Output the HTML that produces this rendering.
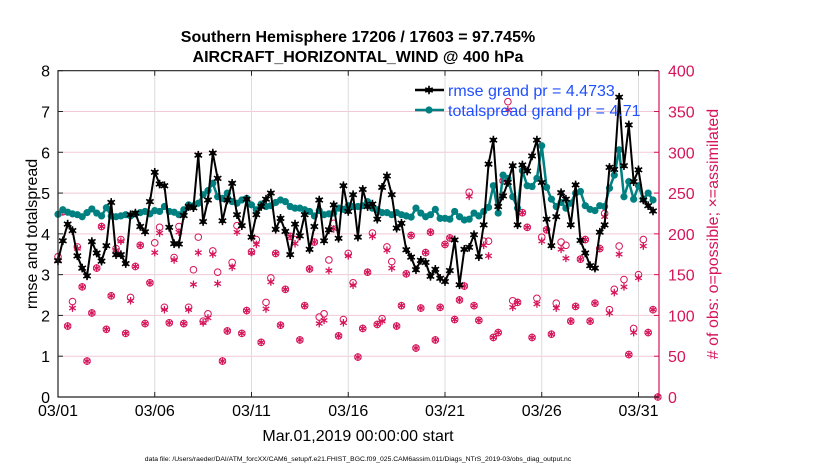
<!DOCTYPE html>
<html><head><meta charset="utf-8"><style>
body{margin:0;background:#fff;}
svg{display:block;font-family:"Liberation Sans",Arial,sans-serif;}
</style></head><body>
<svg id="chart" width="830" height="470" viewBox="0 0 830 470" xmlns="http://www.w3.org/2000/svg">
<rect width="830" height="470" fill="#fff"/>
<text x="358" y="42" text-anchor="middle" font-size="16" font-weight="bold">Southern Hemisphere 17206 / 17603 = 97.745%</text>
<text x="358" y="62" text-anchor="middle" font-size="16" font-weight="bold">AIRCRAFT_HORIZONTAL_WIND @ 400 hPa</text>
<g id="grid"></g>
<g id="obs"></g>
<g id="series"></g>
<g id="axes"></g>
<text transform="translate(37,234) rotate(-90)" text-anchor="middle" font-size="16">rmse and totalspread</text>
<text transform="translate(718,234) rotate(-90)" text-anchor="middle" font-size="16" fill="#d6145a"># of obs: o=possible; ×=assimilated</text>
<text x="358" y="441" text-anchor="middle" font-size="16">Mar.01,2019 00:00:00 start</text>
<text x="358" y="461" text-anchor="middle" font-size="6.8">data file: /Users/raeder/DAI/ATM_forcXX/CAM6_setup/f.e21.FHIST_BGC.f09_025.CAM6assim.011/Diags_NTrS_2019-03/obs_diag_output.nc</text>
<g id="legend"></g>
</svg>
<script>
const rmse=[3.34,3.83,4.24,4.08,3.46,3.16,2.97,3.81,3.53,3.33,3.71,4.77,3.49,3.49,3.27,4.47,4.51,4.18,4.05,4.79,5.51,5.22,5.18,4.16,3.76,3.75,4.45,4.67,4.64,5.93,4.30,4.83,5.98,5.36,4.32,4.83,5.24,4.47,4.20,4.85,3.92,
4.47,4.67,4.85,5.0,4.11,4.38,4.06,3.49,4.24,3.95,4.47,3.62,4.18,4.83,3.83,4.10,4.71,3.89,5.18,4.55,4.96,3.92,5.09,4.67,4.73,4.36,5.14,5.42,4.96,4.14,4.26,3.61,3.43,3.12,3.35,3.30,2.96,3.13,2.91,2.83,3.10,3.85,2.75,
3.62,3.67,3.98,3.44,4.22,5.71,6.30,4.67,4.93,5.26,5.67,4.22,5.69,5.54,5.91,6.30,5.26,4.36,3.71,4.42,5.01,4.85,4.22,5.20,3.84,3.53,3.22,3.16,4.04,4.22,5.63,5.58,7.35,5.67,6.67,5.28,5.57,4.83,4.69,4.56];
const spread=[4.48,4.59,4.53,4.49,4.47,4.42,4.52,4.61,4.51,4.44,4.64,4.44,4.42,4.44,4.47,4.44,4.49,4.52,4.55,4.49,4.57,4.55,4.67,4.55,4.53,4.47,4.59,4.71,4.69,4.75,4.96,5.06,5.24,4.91,4.87,5.0,4.79,4.75,4.83,4.87,4.71,
4.59,4.73,4.67,4.69,4.77,4.83,4.79,4.67,4.63,4.63,4.59,4.55,4.44,4.57,4.47,4.49,4.51,4.63,4.60,4.69,4.67,4.67,4.69,4.79,4.63,4.59,4.52,4.52,4.47,4.52,4.47,4.44,4.41,4.63,4.51,4.42,4.47,4.60,4.38,4.38,4.36,
4.55,4.42,4.34,4.36,4.51,4.44,4.55,4.65,5.18,4.51,5.44,5.36,4.91,4.63,5.55,5.18,5.16,5.36,6.16,5.14,4.85,4.67,4.77,4.63,4.75,5.0,5.04,4.69,4.60,4.57,4.69,4.67,5.12,5.44,6.06,4.91,5.28,4.85,5.18,4.85,5.0,4.83];
const possible=[172,227,87,117,184,135,44,103,158,209,83,124,182,193,78,122,160,186,90,140,189,208,110,91,171,209,90,110,156,196,93,102,179,153,44,81,165,210,78,106,178,
193,67,116,146,176,88,132,197,193,70,112,157,190,98,102,168,213,75,95,176,140,49,84,153,201,89,96,184,166,87,112,151,198,60,109,177,202,70,110,187,195,95,119,
136,251,112,94,191,191,73,79,265,362,118,116,226,208,73,121,196,205,77,115,190,186,93,111,169,193,93,115,182,225,107,132,185,144,52,84,150,193,79,107,0];
const assimilated=[168,227,87,109,182,135,44,103,158,209,83,124,180,191,78,118,160,186,90,140,177,201,107,91,168,202,90,107,138,177,91,97,175,139,44,81,159,202,78,106,177,
187,67,108,141,176,88,132,197,188,70,112,157,190,90,94,155,206,75,91,173,137,49,84,153,197,89,93,180,158,87,112,151,198,60,109,177,202,70,110,187,195,95,119,
136,246,112,94,186,173,73,79,265,352,110,116,226,208,73,114,191,205,77,109,181,170,93,111,169,193,93,115,182,221,103,128,175,135,52,79,146,185,79,107,0];
const xTickLabels=["03/01","03/06","03/11","03/16","03/21","03/26","03/31"];
const xTickDays=[0,5,10,15,20,25,30];
const yTicks=[0,1,2,3,4,5,6,7,8];
const y2Ticks=[0,50,100,150,200,250,300,350,400];
const legendLabels=["rmse grand pr = 4.4733","totalspread grand pr = 4.71"];

const L=58,R=659,T=70.7,B=397,DAYS=31.06;
const X=d=>L+(R-L)*d/DAYS;
const xi=i=>X(i*0.25);
const Y=v=>B-(B-T)*v/8;
const Y2=v=>B-(B-T)*v/400;
const NS="http://www.w3.org/2000/svg";
const CR="#d6145a",TEAL="#008080";
function mk(tag,attrs,parent){const e=document.createElementNS(NS,tag);for(const k in attrs)e.setAttribute(k,attrs[k]);parent.appendChild(e);return e;}
const grid=document.getElementById('grid'),axes=document.getElementById('axes'),obs=document.getElementById('obs'),ser=document.getElementById('series'),leg=document.getElementById('legend');

yTicks.forEach(v=>{
  if(v>0&&v<8){const g=mk('line',{x1:L,x2:R,y1:Y(v),y2:Y(v),stroke:'#f2c9d8','stroke-width':1},grid);
  
  }
  const t=mk('text',{x:L-8,y:Y(v)+6,'text-anchor':'end','font-size':16},axes);t.textContent=v;
  
  
  mk('line',{x1:L,x2:L+5,y1:Y(v),y2:Y(v),stroke:'#222'},axes);
});
xTickDays.forEach((d,k)=>{
  const g=mk('line',{x1:X(d),x2:X(d),y1:T,y2:B,stroke:'#dcdcdc','stroke-width':1},grid);
  
  
  mk('line',{x1:X(d),x2:X(d),y1:B,y2:B-5,stroke:'#222'},axes);
  mk('line',{x1:X(d),x2:X(d),y1:T,y2:T+5,stroke:'#222'},axes);
  const t=mk('text',{x:X(d),y:B+19,'text-anchor':'middle','font-size':16},axes);t.textContent=xTickLabels[k];
  
  
});
y2Ticks.forEach(v=>{
  mk('line',{x1:R,x2:R-5,y1:Y2(v),y2:Y2(v),stroke:CR},axes);
  const t=mk('text',{x:R+9,y:Y2(v)+6,'font-size':16,fill:CR},axes);t.textContent=v;
  
  
});
const fr=mk('path',{d:`M${R},${T}H${L}V${B}H${R}`,fill:'none',stroke:'#222','stroke-width':1.2},axes);


const ra=mk('line',{x1:R,x2:R,y1:T,y2:B,stroke:CR,'stroke-width':1.2},axes);



function star(cx,cy,r,col,w,parent){
  let d='';for(let a=0;a<3;a++){const an=Math.PI/2+a*Math.PI/3;const dx=r*Math.cos(an),dy=r*Math.sin(an);d+=`M${cx-dx},${cy-dy}L${cx+dx},${cy+dy}`;}
  return mk('path',{d:d,stroke:col,'stroke-width':w,fill:'none'},parent);
}
possible.forEach((v,i)=>{
  const c=mk('circle',{cx:xi(i),cy:Y2(v),r:3.3,fill:'none',stroke:CR,'stroke-width':1},obs);
  
  
});
assimilated.forEach((v,i)=>{
  const s=star(xi(i),Y2(v),3.8,CR,1.3,obs);
  
  
});

const sp=mk('polyline',{points:spread.map((v,i)=>`${xi(i)},${Y(v)}`).join(' '),fill:'none',stroke:TEAL,'stroke-width':2.5},ser);


spread.forEach((v,i)=>{const c=mk('circle',{cx:xi(i),cy:Y(v),r:3.6,fill:TEAL},ser);
  
  });
const rl=mk('polyline',{points:rmse.map((v,i)=>`${xi(i)},${Y(v)}`).join(' '),fill:'none',stroke:'#000','stroke-width':2},ser);


rmse.forEach((v,i)=>{
  const g=mk('g',{},ser);
  
  
  mk('circle',{cx:xi(i),cy:Y(v),r:2.6,fill:'#000'},g);star(xi(i),Y(v),4.3,'#000',1.6,g);
});

const lcol=['#000',TEAL];
legendLabels.forEach((s,k)=>{
  const y=90+k*20;
  const e=mk('g',{},leg);
  
  
  mk('line',{x1:415,x2:444,y1:y,y2:y,stroke:lcol[k],'stroke-width':2.5},e);
  if(k===0){mk('circle',{cx:429,cy:y,r:2.6,fill:'#000'},e);star(429,y,4.3,'#000',1.6,e);}
  else mk('circle',{cx:429,cy:y,r:3.6,fill:TEAL},e);
  const t=mk('text',{x:448,y:y+6,'font-size':16,fill:'#1f4fff'},e);t.textContent=s;
});
</script>
</body></html>
